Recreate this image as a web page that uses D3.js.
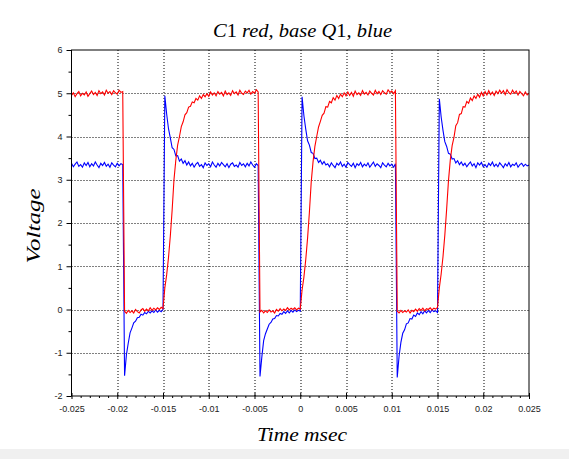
<!DOCTYPE html>
<html>
<head>
<meta charset="utf-8">
<script src="https://cdn.jsdelivr.net/npm/d3@7"></script>
<style>
  html, body { margin: 0; padding: 0; background: #fff; }
  svg { display: block; }
</style>
</head>
<body>
<svg id="chart"></svg>
<script>
// scope capture, one sample every 0.0002 starting at -0.025
const sampleStart = -0.025;
const sampleStep = 0.0002;

const xTicks = [-0.025, -0.02, -0.015, -0.01, -0.005, 0, 0.005, 0.01, 0.015, 0.02, 0.025];
const xTickLabels = ["-0.025", "-0.02", "-0.015", "-0.01", "-0.005", "0", "0.005", "0.01", "0.015", "0.02", "0.025"];
const yTicks = [-2, -1, 0, 1, 2, 3, 4, 5, 6];
const yTickLabels = ["-2", "-1", "0", "1", "2", "3", "4", "5", "6"];

// C1 (red)
const redVolts = [
    4.95, 5.01, 4.92, 4.99, 5.04, 4.94, 5.00, 4.96, 5.03, 4.93, 4.99, 5.05, 4.97, 5.02, 4.95, 5.06, 4.99, 5.03, 4.96, 5.07, 5.00, 5.04, 4.97, 5.06, 5.01, 4.98, 5.07, 5.02, 5.04,
    -0.04, -0.09, -0.02, -0.07, -0.03, -0.08, 0.00, -0.05, -0.08, -0.01, 0.02, -0.04, 0.01, -0.03, 0.04, -0.02, 0.03, -0.01, 0.04, 0.00, 0.05, 0.02,
    0.5, 0.8, 1.2, 1.7, 2.3, 3.0, 3.45, 3.8, 4.0, 4.23, 4.34, 4.5, 4.55, 4.68, 4.7, 4.8, 4.78, 4.88, 4.84, 4.94, 4.88, 4.97, 4.92,
    4.99, 4.93, 5.03, 4.96, 5.01, 4.94, 5.04, 4.98, 5.02, 4.94, 5.05, 4.97, 5.01, 4.95, 5.06, 4.99, 5.03, 4.96, 5.07, 5.00, 4.97, 5.05, 5.01, 5.07, 4.98, 5.04, 5.00, 5.08, 5.03,
    -0.06, -0.02, -0.08, -0.03, -0.07, -0.01, -0.06, -0.03, -0.08, 0.00, -0.04, 0.02, -0.03, 0.01, -0.02, 0.04, -0.01, 0.03, 0.00, 0.04, -0.01, 0.03, 0.01,
    0.45, 0.75, 1.15, 1.65, 2.25, 2.95, 3.42, 3.77, 4.0, 4.22, 4.35, 4.49, 4.54, 4.69, 4.68, 4.81, 4.78, 4.9, 4.84, 4.95, 4.88, 4.98, 4.92,
    5.01, 4.94, 5.03, 4.95, 5.02, 4.93, 5.05, 4.97, 5.01, 4.95, 5.06, 4.98, 5.02, 4.96, 5.05, 5.00, 4.96, 5.07, 4.99, 5.04, 4.97, 5.06, 5.01, 4.98, 5.08, 5.02, 5.05, 4.99, 5.06,
    -0.04, -0.08, -0.02, -0.07, -0.03, -0.06, -0.01, -0.08, -0.02, -0.05, 0.01, -0.04, 0.02, -0.02, 0.03, -0.03, 0.02, 0.00, 0.04, -0.01, 0.03, 0.01, 0.05,
    0.5, 0.82, 1.22, 1.72, 2.32, 2.98, 3.46, 3.79, 3.98, 4.25, 4.32, 4.51, 4.53, 4.69, 4.68, 4.81, 4.77, 4.89, 4.83, 4.94, 4.88, 4.98, 4.91,
    5.02, 4.94, 5.04, 4.96, 5.06, 4.97, 5.03, 4.95, 5.05, 4.99, 5.07, 5.00, 5.06, 4.97, 5.08, 5.01, 4.98, 5.07, 5.00, 5.05, 4.96, 5.04, 4.99, 4.94, 5.03, 4.96, 5.00
];

// base of Q1 (blue)
const blueVolts = [
    3.38, 3.30, 3.36, 3.41, 3.31, 3.35, 3.29, 3.39, 3.33, 3.40, 3.30, 3.37, 3.32, 3.41, 3.34, 3.28, 3.38, 3.33, 3.40, 3.31, 3.36, 3.29, 3.39, 3.34, 3.30, 3.38, 3.32, 3.37, 3.35,
    -1.53, -1.05, -0.78, -0.54, -0.43, -0.31, -0.27, -0.19, -0.18, -0.11, -0.13, -0.07, -0.10, -0.04, -0.08, -0.03, -0.07, -0.01, -0.06, -0.02, -0.05, 0.00,
    4.94, 4.52, 4.18, 3.97, 3.74, 3.70, 3.55, 3.56, 3.43, 3.48, 3.38, 3.44, 3.34, 3.41,
    3.32, 3.38, 3.29, 3.36, 3.40, 3.31, 3.35, 3.28, 3.39, 3.33, 3.37, 3.30, 3.41, 3.34, 3.29, 3.38, 3.32, 3.40, 3.35, 3.30, 3.37, 3.28, 3.36, 3.39, 3.31, 3.34, 3.29, 3.40, 3.33, 3.37, 3.30, 3.38, 3.32, 3.41, 3.34, 3.29, 3.37, 3.33,
    -1.55, -1.10, -0.72, -0.56, -0.45, -0.34, -0.30, -0.22, -0.21, -0.14, -0.15, -0.09, -0.11, -0.05, -0.09, -0.03, -0.08, -0.02, -0.06, -0.01, -0.05, -0.02, -0.04,
    4.92, 4.48, 4.17, 3.90, 3.80, 3.63, 3.61, 3.49, 3.50, 3.40, 3.45, 3.36, 3.42, 3.34,
    3.37, 3.30, 3.39, 3.33, 3.28, 3.38, 3.34, 3.41, 3.31, 3.36, 3.29, 3.40, 3.35, 3.31, 3.38, 3.28, 3.37, 3.33, 3.40, 3.30, 3.36, 3.32, 3.39, 3.29, 3.35, 3.41, 3.31, 3.37, 3.33, 3.28, 3.39, 3.34, 3.30, 3.38, 3.32, 3.36, 3.29, 3.37,
    -1.57, -1.08, -0.76, -0.55, -0.47, -0.33, -0.31, -0.21, -0.22, -0.13, -0.16, -0.08, -0.12, -0.05, -0.10, -0.03, -0.08, -0.02, -0.07, -0.01, -0.05, -0.03, -0.07,
    4.87, 4.45, 4.14, 3.88, 3.77, 3.61, 3.59, 3.48, 3.49, 3.39, 3.44, 3.35, 3.41, 3.33,
    3.38, 3.30, 3.36, 3.41, 3.32, 3.37, 3.28, 3.39, 3.34, 3.40, 3.30, 3.35, 3.29, 3.38, 3.33, 3.41, 3.31, 3.36, 3.30, 3.39, 3.34, 3.28, 3.37, 3.32, 3.40, 3.30, 3.36, 3.33, 3.39, 3.29, 3.35, 3.38, 3.31, 3.36, 3.32, 3.34
];

const W = 569, H = 459;
const margin = { top: 50, right: 40, bottom: 63, left: 71.5 },
    width = W - margin.left - margin.right,
    height = H - margin.top - margin.bottom;

const svg = d3.select("#chart")
    .attr("width", W)
    .attr("height", H);

// grey strip at the bottom of the window
svg.append("rect")
    .attr("x", 0).attr("y", 449)
    .attr("width", W).attr("height", H - 449)
    .attr("fill", "#f0f0f0");

const g = svg.append("g")
    .attr("transform", `translate(${margin.left},${margin.top})`);

const x = d3.scaleLinear().domain([-0.025, 0.025]).range([0, width]);
const y = d3.scaleLinear().domain([-2, 6]).range([height, 0]);

// dotted grid
g.append("g")
    .selectAll("line")
    .data(xTicks.slice(1, -1))
    .join("line")
    .attr("x1", d => Math.round(x(d)) + 0.5).attr("x2", d => Math.round(x(d)) + 0.5)
    .attr("y1", 0).attr("y2", height)
    .attr("stroke", "#000").attr("stroke-width", 1).attr("stroke-dasharray", "1,2");

g.append("g")
    .selectAll("line")
    .data(yTicks.slice(1, -1))
    .join("line")
    .attr("y1", d => Math.round(y(d)) + 0.5).attr("y2", d => Math.round(y(d)) + 0.5)
    .attr("x1", 0).attr("x2", width)
    .attr("stroke", "#000").attr("stroke-width", 1).attr("stroke-dasharray", "1,2");

// traces
const line = d3.line()
    .x(d => x(d[0]))
    .y(d => y(d[1]));

g.append("clipPath").attr("id", "clip")
    .append("rect").attr("width", width).attr("height", height);

const traces = g.append("g").attr("clip-path", "url(#clip)");

traces.append("path")
    .datum(blueVolts.map((v, i) => [sampleStart + i * sampleStep, v]))
    .attr("fill", "none")
    .attr("stroke", "#0000ff")
    .attr("stroke-width", 1.1)
    .attr("d", line);

traces.append("path")
    .datum(redVolts.map((v, i) => [sampleStart + i * sampleStep, v]))
    .attr("fill", "none")
    .attr("stroke", "#ff0000")
    .attr("stroke-width", 1.1)
    .attr("d", line);

// frame
g.append("rect")
    .attr("width", width).attr("height", height)
    .attr("fill", "none").attr("stroke", "#000").attr("stroke-width", 1);

// minor ticks
const xMinor = d3.range(-0.025, 0.02501, 0.001).filter(v => Math.abs(Math.round(v / 0.005) * 0.005 - v) > 1e-6);
const yMinor = yTicks.slice(0, -1).map(v => v + 0.5);

g.append("g")
    .attr("transform", `translate(0,${height})`)
    .call(d3.axisBottom(x).tickValues(xMinor).tickSize(2).tickFormat(""))
    .call(a => a.select(".domain").remove());

g.append("g")
    .call(d3.axisLeft(y).tickValues(yMinor).tickSize(3).tickFormat(""))
    .call(a => a.select(".domain").remove());

// major ticks + labels
const xAxis = g.append("g")
    .attr("transform", `translate(0,${height})`)
    .call(d3.axisBottom(x).tickValues(xTicks).tickSize(3).tickPadding(7)
        .tickFormat((d, i) => xTickLabels[i]));
xAxis.select(".domain").remove();
xAxis.selectAll(".tick line").attr("y1", -3);
xAxis.selectAll("text")
    .attr("font-family", "'Liberation Sans', Arial, sans-serif")
    .attr("font-size", 9).attr("fill", "#222");

const yAxis = g.append("g")
    .call(d3.axisLeft(y).tickValues(yTicks).tickSize(5).tickPadding(4)
        .tickFormat((d, i) => yTickLabels[i]));
yAxis.select(".domain").remove();
yAxis.selectAll("text")
    .attr("font-family", "'Liberation Sans', Arial, sans-serif")
    .attr("font-size", 9).attr("fill", "#222");

// titles (math italic like LaTeX)
const serif = "'Liberation Serif', 'DejaVu Serif', serif";

const title = svg.append("text")
    .attr("x", 302.5).attr("y", 36.5)
    .attr("text-anchor", "middle")
    .attr("font-family", serif).attr("font-size", 18)
    .attr("textLength", 179).attr("lengthAdjust", "spacingAndGlyphs");
[["C", true], ["1 ", false], ["red, base Q", true], ["1", false], [", blue", true]].forEach(([s, it]) => {
    title.append("tspan").attr("font-style", it ? "italic" : "normal").text(s);
});

svg.append("text")
    .attr("x", 302).attr("y", 441)
    .attr("text-anchor", "middle")
    .attr("font-family", serif).attr("font-style", "italic").attr("font-size", 18.5)
    .attr("textLength", 90).attr("lengthAdjust", "spacingAndGlyphs")
    .text("Time msec");

svg.append("text")
    .attr("transform", "translate(40,226) rotate(-90)")
    .attr("text-anchor", "middle")
    .attr("font-family", serif).attr("font-style", "italic").attr("font-size", 19)
    .attr("textLength", 75).attr("lengthAdjust", "spacingAndGlyphs")
    .text("Voltage");
</script>
</body>
</html>
